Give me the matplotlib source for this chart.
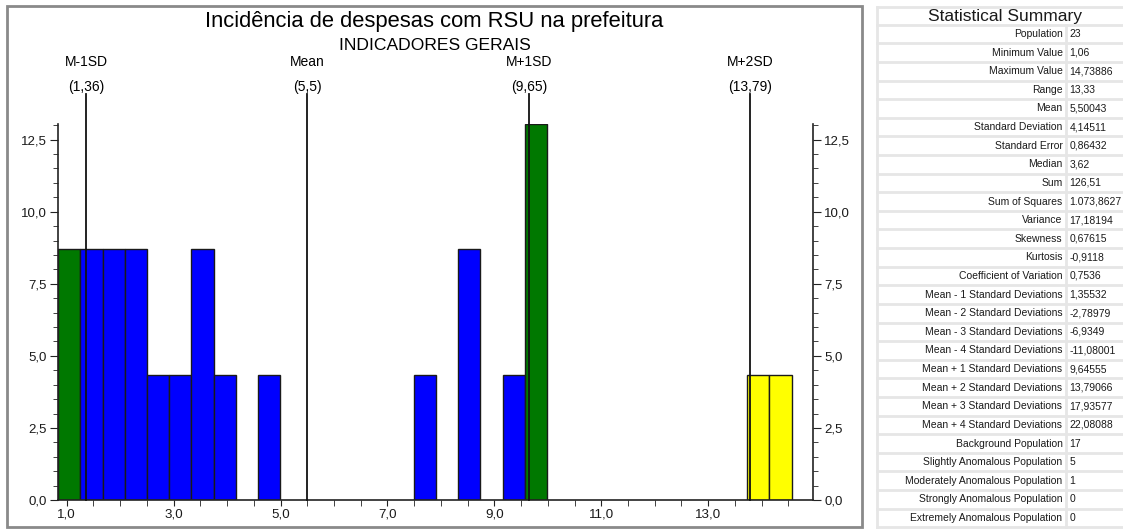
import numpy as np
import matplotlib.pyplot as plt
from matplotlib.ticker import MultipleLocator, FuncFormatter
from matplotlib.lines import Line2D
from matplotlib.patches import Rectangle

plt.rcParams['font.family'] = 'Liberation Sans'

# histograma (percentual da populacao por classe)
population = 23
bin_start = 0.84
bin_width = 0.4157
counts = [2, 2, 2, 2, 1, 1, 2, 1, 0, 1,
          0, 0, 0, 0, 0, 0,
          1, 0, 2, 0, 1, 3,
          0, 0, 0, 0, 0, 0, 0, 0, 0,
          1, 1]
bin_class = ['g', 'b', 'b', 'b', 'b', 'b', 'b', 'b', 'b', 'b',
             'b', 'b', 'b', 'b', 'b', 'b',
             'b', 'b', 'b', 'b', 'b', 'g',
             'b', 'b', 'b', 'b', 'b', 'b', 'b', 'b', 'b',
             'y', 'y']
class_colors = {'b': '#0000ff', 'g': '#007800', 'y': '#ffff00'}

# linhas de referencia
ref_names = ['M-1SD', 'Mean', 'M+1SD', 'M+2SD']
ref_values = [1.36, 5.5, 9.65, 13.79]
ref_labels = ['(1,36)', '(5,5)', '(9,65)', '(13,79)']

# resumo estatistico
stat_names = ['Population', 'Minimum Value', 'Maximum Value', 'Range', 'Mean',
              'Standard Deviation', 'Standard Error', 'Median', 'Sum',
              'Sum of Squares', 'Variance', 'Skewness', 'Kurtosis',
              'Coefficient of Variation',
              'Mean - 1 Standard Deviations', 'Mean - 2 Standard Deviations',
              'Mean - 3 Standard Deviations', 'Mean - 4 Standard Deviations',
              'Mean + 1 Standard Deviations', 'Mean + 2 Standard Deviations',
              'Mean + 3 Standard Deviations', 'Mean + 4 Standard Deviations',
              'Background Population', 'Slightly Anomalous Population',
              'Moderately Anomalous Population', 'Strongly Anomalous Population',
              'Extremely Anomalous Population']
stat_values = ['23', '1,06', '14,73886', '13,33', '5,50043', '4,14511', '0,86432',
               '3,62', '126,51', '1.073,8627', '17,18194', '0,67615', '-0,9118',
               '0,7536', '1,35532', '-2,78979', '-6,9349', '-11,08001', '9,64555',
               '13,79066', '17,93577', '22,08088', '17', '5', '1', '0', '0']

W, H = 1123, 529
fig = plt.figure(figsize=(W / 100, H / 100), dpi=100)

ax = fig.add_axes([58 / W, 29 / H, 755 / W, 376 / H])
counts = np.array(counts)
edges = bin_start + np.arange(len(counts)) * bin_width
heights = counts / population * 100
keep = counts > 0
ax.bar(edges[keep], heights[keep], width=bin_width, align='edge',
       color=[class_colors[c] for c, k in zip(bin_class, keep) if k],
       edgecolor='#1a1a1a', linewidth=1, zorder=2)

ax.set_xlim(0.837, 14.96)
ax.set_ylim(0, heights.max())

fmt = FuncFormatter(lambda v, p: f'{v:.1f}'.replace('.', ','))
ax.set_xticks(np.arange(1, 14, 2))
ax.xaxis.set_minor_locator(MultipleLocator(0.5))
ax.yaxis.set_major_locator(MultipleLocator(2.5))
ax.yaxis.set_minor_locator(MultipleLocator(0.5))
ax.xaxis.set_major_formatter(fmt)
ax.yaxis.set_major_formatter(fmt)

ax.spines['top'].set_visible(False)
for s in ['left', 'right', 'bottom']:
    ax.spines[s].set_color('#222222')
    ax.spines[s].set_linewidth(1.2)
ax.yaxis.set_ticks_position('both')
ax.tick_params(axis='y', which='both', labelright=True, labelsize=9.5,
               labelcolor='#1a1a1a', color='#222222', pad=2)
ax.tick_params(axis='y', which='major', length=6)
ax.tick_params(axis='y', which='minor', length=3.5)
ax.tick_params(axis='x', which='both', length=4, labelsize=9.6,
               labelcolor='#1a1a1a', color='#222222', pad=2)

tr = ax.get_xaxis_transform()
for name, val, lab in zip(ref_names, ref_values, ref_labels):
    ax.plot([val, val], [0, 1.08], transform=tr, color='#111111', lw=1.3,
            clip_on=False, zorder=3)
    ax.text(val, 1.165, name, transform=tr, ha='center', va='center', fontsize=10)
    ax.text(val, 1.098, lab, transform=tr, ha='center', va='center', fontsize=10)

fig.text(434.5 / W, 1 - 22 / H, 'Incidência de despesas com RSU na prefeitura',
         ha='center', va='center', fontsize=15.8)
fig.text(434.5 / W, 1 - 45 / H, 'INDICADORES GERAIS',
         ha='center', va='center', fontsize=12.6)

fig.add_artist(Rectangle((7 / W, 2 / H), 855 / W, 521 / H, transform=fig.transFigure,
                         fill=False, edgecolor='#8a8a8a', linewidth=2))

# tabela de resumo
sep = '#e6e6e6'
fig.add_artist(Line2D([877 / W, 1], [1 - 7 / H] * 2, transform=fig.transFigure, color=sep, lw=2))
fig.add_artist(Line2D([877 / W] * 2, [0, 1 - 7 / H], transform=fig.transFigure, color=sep, lw=2))
fig.add_artist(Line2D([1066 / W] * 2, [0, 1 - 25 / H], transform=fig.transFigure, color=sep, lw=2))
row_h = 18.615
for i in range(len(stat_names) + 1):
    y = 24.7 + i * row_h
    fig.add_artist(Line2D([877 / W, 1], [1 - y / H] * 2, transform=fig.transFigure, color=sep, lw=2))

fig.text(1005.5 / W, 1 - 16 / H, 'Statistical Summary', ha='center', va='center',
         fontsize=12.5, color='#1a1a1a')
for i, (n, v) in enumerate(zip(stat_names, stat_values)):
    y = 1 - (34 + i * row_h) / H
    fig.text(1062.5 / W, y, n, ha='right', va='center', fontsize=7.5, color='#1a1a1a')
    fig.text(1069.5 / W, y, v, ha='left', va='center', fontsize=7.5, color='#1a1a1a')

fig.savefig('out.png', dpi=100)
